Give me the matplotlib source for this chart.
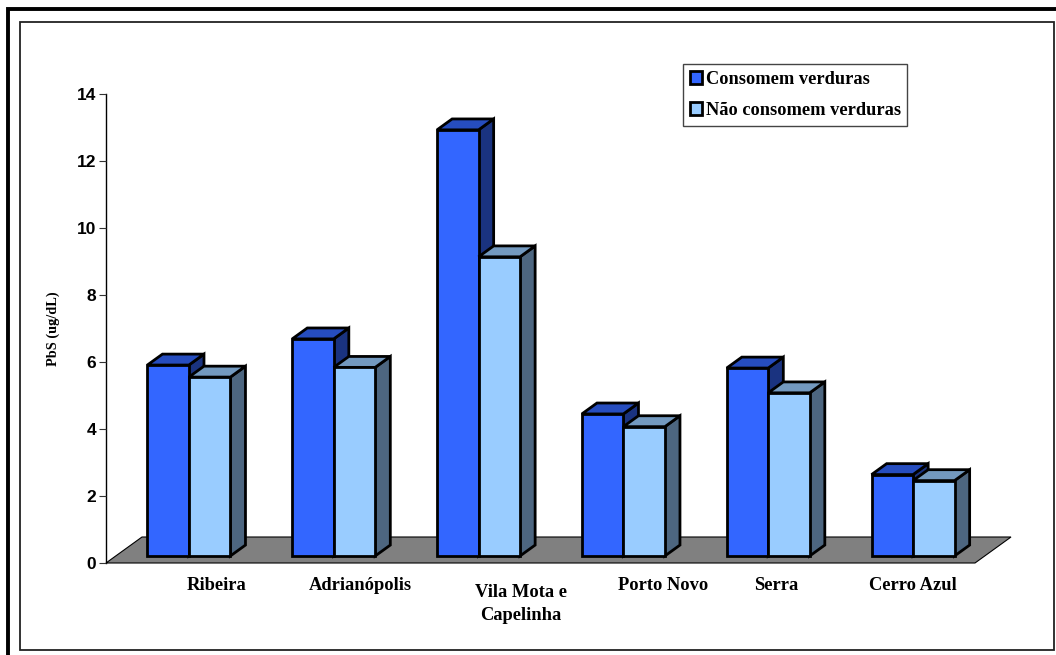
import matplotlib
matplotlib.use("Agg")
import matplotlib.pyplot as plt
from matplotlib.patches import Patch, Polygon, Rectangle

WIDTH = 1056
HEIGHT = 655

CATEGORIES = ["Ribeira", "Adrianópolis", "Vila Mota e\nCapelinha", "Porto Novo", "Serra", "Cerro Azul"]
CONSOMEM = [5.70, 6.48, 12.72, 4.24, 5.61, 2.43]
NAO_CONSOMEM = [5.34, 5.63, 8.93, 3.86, 4.87, 2.25]
SERIES_NAMES = ["Consomem verduras", "Não consomem verduras"]
Y_TICKS = [0, 2, 4, 6, 8, 10, 12, 14]

# (front, side, top) shades of each series
BLUE = ("#3366FF", "#1A3380", "#264DBF")
LIGHT = ("#99CCFF", "#4D6680", "#7399BF")

# pixel-ish geometry of the oblique projection, in data units
DEPTH_X = 36 / 144.83
DEPTH_Y = 26 / 33.5
BAR_W = 0.2865
GROUP_PAD = 0.2185
BAR_DEPTH_FRONT = 0.27
BAR_DEPTH_BACK = 0.69

SERIF = "Liberation Serif"
SANS = "Liberation Sans"


def project(x, y, depth):
    return x + depth * DEPTH_X, y + depth * DEPTH_Y


def draw_bar(ax, x, value, colors, zorder):
    front, side, top = colors
    f = BAR_DEPTH_FRONT
    b = BAR_DEPTH_BACK
    x2 = x + BAR_W
    faces = [
        (side, [project(x2, 0, f), project(x2, 0, b), project(x2, value, b), project(x2, value, f)]),
        (top, [project(x, value, f), project(x2, value, f), project(x2, value, b), project(x, value, b)]),
        (front, [project(x, 0, f), project(x2, 0, f), project(x2, value, f), project(x, value, f)]),
    ]
    for color, pts in faces:
        ax.add_patch(Polygon(pts, closed=True, facecolor=color, edgecolor="black",
                             linewidth=2.0, joinstyle="miter", zorder=zorder, clip_on=False))


fig = plt.figure(figsize=(WIDTH / 100, HEIGHT / 100), dpi=100, facecolor="white")

# page borders
fig.add_artist(Rectangle((8 / WIDTH, -0.1), 1.2, 1.1 - 9.5 / HEIGHT, transform=fig.transFigure,
                         fill=False, edgecolor="black", linewidth=2.8))
fig.add_artist(Rectangle((20 / WIDTH, 1 - 649.5 / HEIGHT), 1034 / WIDTH, 628 / HEIGHT,
                         transform=fig.transFigure, fill=False, edgecolor="#222222", linewidth=1.3))

ax = fig.add_axes([106 / WIDTH, 1 - 563 / HEIGHT, (975 - 106) / WIDTH, (563 - 94) / HEIGHT])
ax.set_xlim(0, 6)
ax.set_ylim(0, 14)
ax.patch.set_visible(False)
for name in ("top", "right", "bottom"):
    ax.spines[name].set_visible(False)
ax.spines["left"].set_linewidth(1.0)
ax.spines["left"].set_zorder(1)

ax.set_xticks([])
ax.set_yticks(Y_TICKS)
ax.tick_params(axis="y", length=5, width=0.8, color="#333333", pad=2)
for label in ax.get_yticklabels():
    label.set_fontname(SANS)
    label.set_fontweight("bold")
    label.set_fontsize(12.5)

ax.add_patch(Polygon([project(0, 0, 0), project(6, 0, 0), project(6, 0, 1), project(0, 0, 1)],
                     closed=True, facecolor="#808080", edgecolor="black", linewidth=0.8,
                     zorder=2, clip_on=False))

for i in range(len(CATEGORIES)):
    draw_bar(ax, i + GROUP_PAD, CONSOMEM[i], BLUE, 3 + i * 0.1)
    draw_bar(ax, i + GROUP_PAD + BAR_W, NAO_CONSOMEM[i], LIGHT, 3.05 + i * 0.1)

# category labels do not sit on regular centres, so each has its own pixel anchor
LABEL_X = [217, 360, 521, 663, 776, 913]
LABEL_TOP = [577, 577, 584, 577, 577, 577]
for name, px, top in zip(CATEGORIES, LABEL_X, LABEL_TOP):
    ax.text((px - 106) / 144.83, 0 - (top - 563) / 33.5, name, ha="center", va="top",
            family=SERIF, fontweight="bold", fontsize=13.3, linespacing=1.5, clip_on=False)

fig.text(53 / WIDTH, 1 - 329 / HEIGHT, "PbS (ug/dL)", rotation=90, ha="center", va="center",
         family=SERIF, fontweight="bold", fontsize=10.3)

handles = [
    Patch(facecolor=BLUE[0], edgecolor="black", linewidth=2.0, label=SERIES_NAMES[0]),
    Patch(facecolor=LIGHT[0], edgecolor="black", linewidth=2.0, label=SERIES_NAMES[1]),
]
legend = fig.legend(handles=handles, loc="upper left", bbox_to_anchor=(683 / WIDTH, 1 - 64 / HEIGHT),
                    borderaxespad=0, fancybox=False, framealpha=1, edgecolor="#444444",
                    prop={"family": SERIF, "weight": "bold", "size": 13.2},
                    handlelength=0.7, handleheight=0.7, handletextpad=0.17, labelspacing=0.78,
                    borderpad=0.36)
legend.get_frame().set_linewidth(1.0)

fig.savefig("out.png", dpi=100)
